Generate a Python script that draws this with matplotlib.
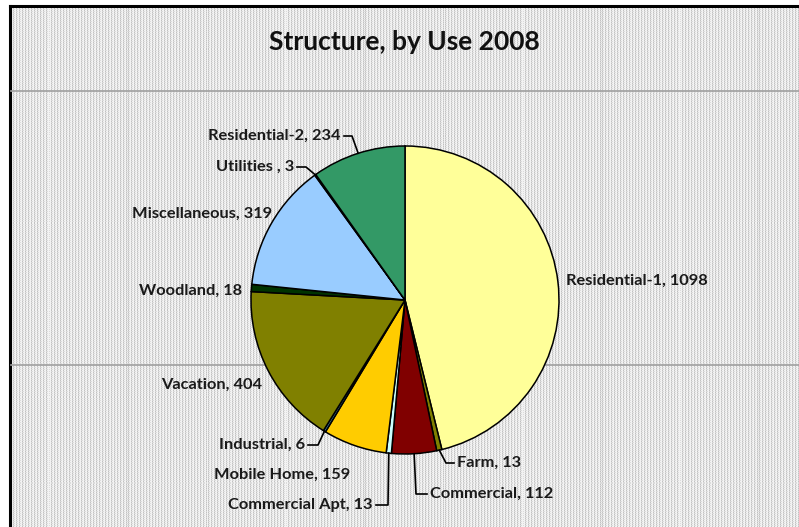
import numpy as np
import matplotlib.pyplot as plt

labels = ["Residential-1", "Farm", "Commercial", "Commercial Apt", "Mobile Home",
          "Industrial", "Vacation", "Woodland", "Miscellaneous", "Utilities ",
          "Residential-2"]
counts = [1098, 13, 112, 13, 159, 6, 404, 18, 319, 3, 234]
colors = ["#FFFF99", "#808000", "#800000", "#CCFFFF", "#FFCC00",
          "#3C7C9C", "#808000", "#003300", "#99CCFF", "#333333", "#339966"]

W, H = 799, 527
cx, cy, r = 405, 300, 154

# label anchor (pixel coords), alignment, and optional leader elbow x
label_pos = {
    "Residential-1": (566, 281, "left", None),
    "Farm": (457, 463, "left", 446),
    "Commercial": (430, 494, "left", 416),
    "Commercial Apt": (373, 505, "right", 388),
    "Mobile Home": (350, 475, "right", None),
    "Industrial": (305, 445, "right", 318),
    "Vacation": (262, 385, "right", None),
    "Woodland": (242, 291, "right", None),
    "Miscellaneous": (272, 214, "right", None),
    "Utilities ": (294, 167, "right", 306),
    "Residential-2": (341, 136, "right", 352),
}

fig = plt.figure(figsize=(W / 100, H / 100), dpi=100)
ax = fig.add_axes([0, 0, 1, 1])
ax.set_xlim(0, W)
ax.set_ylim(0, H)
ax.axis("off")

# dotted pattern fill for the chart area
yy, xx = np.mgrid[0:H, 0:W]
bg = np.full((H, W), 0.95)
bg[(xx % 3 == 0)] = 0.85
bg[(xx % 3 == 0) & (yy % 2 == 0)] = 0.76
bg[(xx % 3 == 1) & (yy % 2 == 1)] = 0.86
ax.imshow(bg, cmap="gray", vmin=0, vmax=1, extent=(10, W, 0, H - 6),
          interpolation="nearest", zorder=0)
ax.plot([10, 10], [0, H - 6], color="black", lw=2.2, zorder=1)
ax.plot([10, W], [H - 6, H - 6], color="black", lw=2.2, zorder=1)
for gy in (91, 365):
    ax.plot([11, W], [H - gy, H - gy], color="#A0A0A0", lw=1.2, zorder=1)

wedges, _ = ax.pie(counts, colors=colors, startangle=90, counterclock=False,
                   center=(cx, H - cy), radius=r, frame=True,
                   wedgeprops=dict(edgecolor="black", linewidth=1.1))
for w in wedges:
    w.set_zorder(2)
ax.set_xlim(0, W)
ax.set_ylim(0, H)
ax.set_aspect("equal")
ax.axis("off")

total = sum(counts)
start = 0.0
font = dict(family="Lato", fontsize=11.8, fontweight="bold", color="#1A1A1A")
for name, val in zip(labels, counts):
    span = 360.0 * val / total
    mid = np.radians(start + span / 2)
    start += span
    px = cx + r * np.sin(mid)
    py = cy - r * np.cos(mid)
    tx, ty, ha, elbow = label_pos[name]
    ax.text(tx, H - ty, f"{name}, {val}", ha=ha, va="center", zorder=4, **font)
    if elbow is not None:
        tip = tx + 3 if ha == "right" else tx - 3
        ax.plot([px, elbow, tip], [H - py, H - ty, H - ty], color="black",
                lw=1.2, zorder=3)

ax.text(404, H - 42, "Structure, by Use 2008", ha="center", va="center",
        family="Lato", fontsize=19, fontweight="bold", color="#111111", zorder=4)

fig.savefig("out.png", dpi=100)
